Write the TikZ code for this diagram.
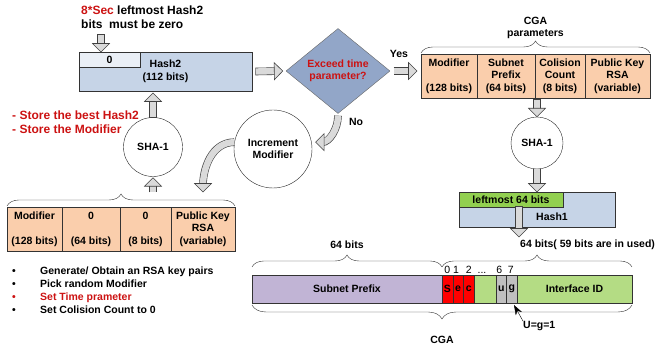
\documentclass[tikz,border=0pt]{standalone}
\usepackage{fontspec}
\setmainfont{Liberation Sans}
\usepackage{tikz}
\usetikzlibrary{arrows.meta, positioning, shapes.geometric, calc, decorations.pathreplacing, decorations.markings}

\definecolor{hashblue}{RGB}{198,212,231}
\definecolor{zeroblue}{RGB}{234,239,246}
\definecolor{diamondblue}{RGB}{146,166,200}
\definecolor{peach}{RGB}{250,206,172}
\definecolor{leftgreen}{RGB}{146,208,80}
\definecolor{idgreen}{RGB}{180,220,132}
\definecolor{prefixpurple}{RGB}{193,180,213}
\definecolor{ubitgray}{RGB}{192,192,192}
\definecolor{secred}{RGB}{255,0,0}
\definecolor{notered}{RGB}{204,18,18}
\definecolor{shaftgray}{RGB}{218,218,218}

\begin{document}
\begin{tikzpicture}[
  x=1pt, y=-1pt,
  font=\fontsize{10.5}{12.5}\selectfont\bfseries,
  box/.style={rectangle, draw=black!80, inner sep=0pt, outer sep=0pt, align=center},
  cell/.style={box, fill=peach, minimum height=44pt},
  hashbox/.style={box, fill=hashblue},
  bitcell/.style={box, minimum height=28pt},
  hashfn/.style={circle, draw=black!85, fill=white, inner sep=0pt, align=center},
  decision/.style={diamond, draw=black!60, fill=diamondblue, inner sep=0pt, aspect=1.2, align=center, text=notered},
  bitnum/.style={anchor=base, inner sep=0pt, font=\fontsize{10.5}{12.5}\selectfont\mdseries},
  bigtext/.style={font=\fontsize{12}{14}\selectfont\bfseries, align=left, inner sep=0pt},
  bulletline/.style={inner sep=0pt, text height=9pt, text depth=3.7pt},
  brace/.style={decorate, decoration={brace, amplitude=12pt}, draw=black!80},
  blockarr/.style={
    preaction={draw=black!75, line width=7.6pt, shorten >=7pt, shorten <=#1},
    draw=shaftgray, line width=6.4pt, shorten >=6.5pt,
    postaction={decorate, decoration={markings, mark=at position -0.02pt with {
      \filldraw[draw=black!75, fill=shaftgray, line width=0.6pt, shorten >=0pt, shorten <=0pt]
        (-8.5pt,8.5pt) -- (0pt,0pt) -- (-8.5pt,-8.5pt) -- cycle;}}}},
  blockarr/.default=-0.6pt
]
  \useasboundingbox (0,0) rectangle (657,352);

  % Hash2 with its zero prefix
  \node[hashbox, minimum width=173pt, minimum height=39pt, anchor=north west] (hash2) at (79,52) {Hash2\\(112 bits)};
  \node[box, fill=zeroblue, minimum width=61pt, minimum height=15pt, anchor=north west] (zero) at (hash2.north west) {0};
  \node[bigtext, anchor=north west] (rule) at (81,5.5) {\textcolor{notered}{8*Sec} leftmost Hash2\\bits\ \ must be zero};
  \node[bigtext, text=notered, anchor=north west] (store) at (12,110.5) {- Store the best Hash2\\- Store the Modifier};

  % test
  \node[decision, minimum width=104pt, minimum height=85pt] (dia) at (338,71) {Exceed time\\parameter?};
  \node (yes) at (399,54) {Yes};
  \node (no) at (356,122) {No};

  % CGA parameters
  \node[cell, minimum width=56pt, anchor=north west] (cga1) at (421,54) {Modifier\\~\\(128 bits)};
  \node[cell, minimum width=58pt, right=0pt of cga1] (cga2) {Subnet\\Prefix\\(64 bits)};
  \node[cell, minimum width=50pt, right=0pt of cga2] (cga3) {Colision\\Count\\(8 bits)};
  \node[cell, minimum width=65pt, right=0pt of cga3] (cga4) {Public Key\\RSA\\(variable)};
  \draw[brace] ([yshift=1pt]cga1.north west) -- ([yshift=1pt]cga4.north east)
    node[midway, above=13pt, align=center, inner sep=1pt] (cgaparams) {CGA\\parameters};

  % start parameters
  \node[cell, minimum width=55pt, anchor=north west] (par1) at (7,207) {Modifier\\~\\(128 bits)};
  \node[cell, minimum width=58pt, right=0pt of par1] (par2) {0\\~\\(64 bits)};
  \node[cell, minimum width=51pt, right=0pt of par2] (par3) {0\\~\\(8 bits)};
  \node[cell, minimum width=64pt, right=0pt of par3] (par4) {Public Key\\RSA\\(variable)};
  \draw[brace] ([yshift=1pt]par1.north west) -- ([yshift=1pt]par4.north east);

  % hash functions
  \node[hashfn, minimum size=59pt] (shaleft) at (153,147) {SHA-1};
  \node[hashfn, minimum size=78pt] (inc) at (273,149) {Increment\\Modifier};
  \node[hashfn, minimum size=52pt] (sharight) at (537,143) {SHA-1};

  % Hash1
  \node[hashbox, minimum width=156pt, minimum height=35pt, anchor=north west] (hash1) at (459,192) {};
  \node[box, fill=leftgreen, minimum width=104pt, minimum height=15pt, anchor=north west] (left64) at (hash1.north west) {leftmost 64 bits};
  \node (hashone) at (552,217) {Hash1};

  % address
  \node[bitcell, fill=prefixpurple, minimum width=190pt, anchor=north west] (prefix) at (252,275) {Subnet Prefix};
  \node[bitcell, fill=secred, minimum width=10.7pt, right=0pt of prefix] (bs) {S};
  \node[bitcell, fill=secred, minimum width=10.7pt, right=0pt of bs] (be) {e};
  \node[bitcell, fill=secred, minimum width=10.6pt, right=0pt of be] (bc) {c};
  \node[bitcell, fill=idgreen, minimum width=22pt, right=0pt of bc] (bgap) {};
  \node[bitcell, fill=ubitgray, minimum width=10.5pt, right=0pt of bgap] (bu) {u};
  \node[bitcell, fill=ubitgray, minimum width=10.5pt, right=0pt of bu] (bg) {g};
  \node[bitcell, fill=idgreen, minimum width=115pt, right=0pt of bg] (iid) {Interface ID};

  \node[bitnum] (n0) at ([yshift=1pt]bs.north) {0};
  \node[bitnum] (n1) at ([xshift=-2pt, yshift=1pt]be.north) {1};
  \node[bitnum] (n2) at ([yshift=1pt]bc.north) {2};
  \node[bitnum] (ndots) at ([xshift=-3pt, yshift=1pt]bgap.north) {...};
  \node[bitnum] (n6) at ([xshift=-2pt, yshift=1pt]bu.north) {6};
  \node[bitnum] (n7) at ([xshift=-1pt, yshift=1pt]bg.north) {7};

  \draw[brace] ([yshift=8pt]prefix.north west) -- ([yshift=8pt]prefix.north east)
    node[midway, above=17pt, inner sep=1pt] (pfxbits) {64 bits};
  \draw[brace] ([yshift=8pt]bs.north west) -- ([yshift=8pt]iid.north east);
  \node[anchor=west, inner sep=0pt] (iidbits) at (520,245) {64 bits( 59 bits are in used)};
  \draw[brace, decoration={amplitude=14pt}] ([yshift=-2pt]iid.south east) -- ([yshift=-2pt]prefix.south west)
    node[midway, below=30pt, inner sep=1pt] (cgalabel) {CGA};

  \node[anchor=west, inner sep=0pt] (uglabel) at (523,326) {U=g=1};
  \draw[-{Stealth[length=10pt, width=7pt]}, thin] (uglabel.north west) -- ([xshift=-3pt, yshift=-2pt]bg.south east);

  % block arrows
  \coordinate (zerotop) at (101,35);
  \coordinate (cgain) at (dia.east -| cga1.west);
  \coordinate (cgaout) at (sharight.north |- cga2.south);
  \coordinate (hashout) at (519,237);
  \coordinate (hashin) at (shaleft.north |- hash2.south);
  \coordinate (incend) at (203,192);
  \draw[blockarr] (zerotop) -- (zerotop |- zero.north);
  \draw[blockarr] ([xshift=4pt]hash2.east) -- ([xshift=-3pt]dia.west);
  \draw[blockarr] ([xshift=4pt]dia.east) -- ([xshift=-4pt]cgain);
  \draw[blockarr] ([yshift=-2pt]cgaout) -- (sharight.north);
  \draw[blockarr] (sharight.south) -- (sharight.south |- hash1.north);
  \draw[blockarr] (hashout |- left64.south) -- (hashout);
  \draw[blockarr=0pt] ([yshift=-2pt]dia.south) to[out=-90, in=0] ([xshift=4pt]inc.10);
  \draw[blockarr=0pt] (inc.170) to[out=180, in=90] (incend);
  \draw[blockarr] (shaleft.north) -- ([yshift=-2pt]hashin);
  \draw[blockarr] ([yshift=-15pt]shaleft.south) -- ([yshift=-1pt]shaleft.south);

  % setup steps
  \node[bulletline, anchor=west] (step1) at (12,272) {\makebox[28pt][l]{\textbullet}Generate/ Obtain an RSA key pairs};
  \node[bulletline, below=0pt of step1.south west, anchor=north west] (step2) {\makebox[28pt][l]{\textbullet}Pick random Modifier};
  \node[bulletline, below=0pt of step2.south west, anchor=north west, text=notered] (step3) {\makebox[28pt][l]{\textbullet}Set Time prameter};
  \node[bulletline, below=0pt of step3.south west, anchor=north west] (step4) {\makebox[28pt][l]{\textbullet}Set Colision Count to 0};
\end{tikzpicture}
\end{document}
